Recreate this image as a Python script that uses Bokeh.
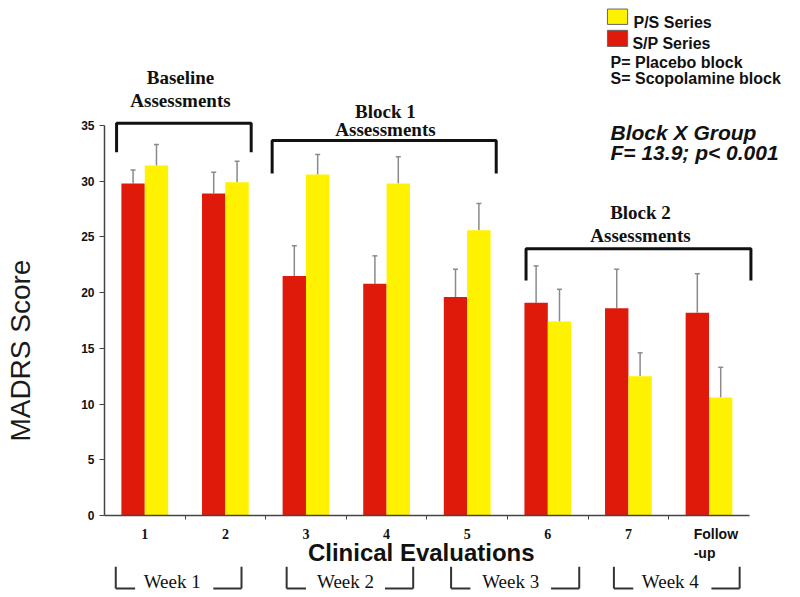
from math import pi
from bokeh.plotting import figure
from bokeh.models import (Range1d, FixedTicker, ColumnDataSource, Whisker, TeeHead,
                          Label, LabelSet, Arrow)
from bokeh.core.properties import value
from bokeh.embed import file_html
from bokeh.resources import INLINE

# ---------------- data ----------------
categories = ["1", "2", "3", "4", "5", "6", "7", "Follow\n-up"]
sp_means = [29.8, 28.9, 21.5, 20.8, 19.6, 19.1, 18.6, 18.2]   # S/P series (red)
sp_sem = [1.2, 1.9, 2.7, 2.5, 2.5, 3.3, 3.5, 3.5]
ps_means = [31.4, 29.9, 30.6, 29.8, 25.6, 17.4, 12.5, 10.6]   # P/S series (yellow)
ps_sem = [1.9, 1.9, 1.8, 2.4, 2.4, 2.9, 2.1, 2.7]
y_ticks = [0, 5, 10, 15, 20, 25, 30, 35]
series_names = ["P/S Series", "S/P Series"]
legend_notes = ["P= Placebo block", "S= Scopolamine block"]
block_line1 = ["Baseline", "Block 1", "Block 2"]
block_line2 = ["Assessments", "Assessments", "Assessments"]
weeks = ["Week 1", "Week 2", "Week 3", "Week 4"]
stat_lines = ["Block X Group", "F= 13.9; p< 0.001"]
y_title = "MADRS Score"
x_title = "Clinical Evaluations"

# ---------------- layout constants ----------------
RED = "#DF1A0B"
YEL = "#FFF200"
BAR_W = 0.29
SANS = "Liberation Sans"
SERIF = "Liberation Serif"

# bracket geometry (data units)
br_x0 = [0.15, 2.08, 5.23]
br_x1 = [1.82, 4.86, 8.02]
br_top = [35.2, 33.66, 23.94]
br_bot = [32.6, 30.7, 21.1]
br_tx = [0.943, 3.486, 6.65]
br_ty1 = [39.3, 36.3, 27.2]
br_ty2 = [37.2, 34.6, 25.1]

wk_x0 = [0.14, 2.26, 4.30, 6.32]
wk_x1 = [1.70, 3.83, 5.89, 7.88]
wk_tx = [0.84, 2.99, 5.04, 7.02]

n = len(categories)
centers = [i + 0.5 for i in range(n)]
red_x = [c - BAR_W / 2 for c in centers]
yel_x = [c + BAR_W / 2 for c in centers]

p = figure(width=800, height=597,
           x_range=Range1d(-1.290, 8.635), y_range=Range1d(-7.359, 46.217),
           output_backend="svg", toolbar_location=None,
           min_border_left=0, min_border_right=0,
           min_border_top=0, min_border_bottom=0)
p.outline_line_color = None
p.grid.visible = False
p.background_fill_color = "white"

# axes (fixed in data space so that the frame covers the whole canvas)
xa = p.xaxis[0]
xa.fixed_location = 0
xa.ticker = FixedTicker(ticks=[], minor_ticks=list(range(1, n)))
xa.bounds = (0, n)
xa.major_tick_line_color = None
xa.major_label_text_font_size = "0px"
xa.minor_tick_in = 0
xa.minor_tick_out = 4
xa.minor_tick_line_color = "#444444"
xa.axis_line_color = "#444444"
xa.axis_line_width = 1.5

ya = p.yaxis[0]
ya.fixed_location = 0
ya.ticker = FixedTicker(ticks=y_ticks)
ya.bounds = (0, 35)
ya.major_tick_in = 0
ya.major_tick_out = 5
ya.minor_tick_line_color = None
ya.major_tick_line_color = "#444444"
ya.axis_line_color = "#444444"
ya.axis_line_width = 1.5
ya.major_label_text_font = SANS
ya.major_label_text_font_style = "bold"
ya.major_label_text_font_size = "12px"
ya.major_label_text_color = "#111111"
ya.major_label_standoff = 5

# bars
p.vbar(x=red_x, top=sp_means, bottom=0, width=BAR_W, fill_color=RED, line_color=None)
p.vbar(x=yel_x, top=ps_means, bottom=0, width=BAR_W, fill_color=YEL, line_color=None)

# error bars (upper only)
for xs, m, e in ((red_x, sp_means, sp_sem), (yel_x, ps_means, ps_sem)):
    src = ColumnDataSource(dict(x=xs, lower=m, upper=[a + b for a, b in zip(m, e)]))
    w = Whisker(base="x", lower="lower", upper="upper", source=src, dimension="height",
                line_color="#8A8A8A", line_width=1.5,
                upper_head=TeeHead(size=5, line_color="#8A8A8A", line_width=1.5),
                lower_head=None)
    p.add_layout(w)

# block brackets
p.multi_line(xs=[[a, a, b, b] for a, b in zip(br_x0, br_x1)],
             ys=[[lo, hi, hi, lo] for lo, hi in zip(br_bot, br_top)],
             line_color="#111111", line_width=3)
p.text(x=br_tx, y=br_ty1, text=block_line1, text_font=value(SERIF), text_font_style="bold",
       text_font_size="19px", text_align="center", text_baseline="middle", text_color="#111111")
p.text(x=br_tx, y=br_ty2, text=block_line2, text_font=value(SERIF), text_font_style="bold",
       text_font_size="19px", text_align="center", text_baseline="middle", text_color="#111111")

# statistics
p.text(x=[6.278, 6.278], y=[34.4, 32.56], text=stat_lines, text_font=value(SANS),
       text_font_style="bold italic", text_font_size="21px", text_align="left",
       text_baseline="middle", text_color="#111111")

# legend
p.quad(left=[6.24, 6.24], right=[6.49, 6.49], bottom=[44.07, 42.1], top=[45.45, 43.54],
       fill_color=[YEL, RED], line_color="#666666", line_width=1)
p.text(x=[6.563, 6.55], y=[44.25, 42.37], text=series_names, text_font=value(SANS),
       text_font_style="bold", text_font_size="16px", text_align="left",
       text_baseline="middle", text_color="#111111")
p.text(x=[6.278, 6.278], y=[40.66, 39.23], text=legend_notes, text_font=value(SANS),
       text_font_style="bold", text_font_size="16px", text_align="left",
       text_baseline="middle", text_color="#111111")

# y title
p.add_layout(Label(x=-1.036, y=14.8, text=y_title, angle=pi / 2, text_align="center",
                   text_baseline="middle", text_font=SANS, text_font_size="28px",
                   text_color="#1a1a1a"))

# category labels under the axis
num_src = ColumnDataSource(dict(x=centers[:-1], y=[-1.62] * (n - 1), t=categories[:-1]))
p.add_layout(LabelSet(x="x", y="y", text="t", source=num_src, text_align="center",
                      text_baseline="middle", text_font=SANS, text_font_style="bold",
                      text_font_size="14px", text_color="#111111"))
p.add_layout(Label(x=centers[-1] - 0.19, y=-0.95, text=categories[-1], text_align="left",
                   text_baseline="top", text_font=SANS, text_font_style="bold",
                   text_font_size="14px", text_color="#111111"))

# x title
p.add_layout(Label(x=3.93, y=-3.32, text=x_title, text_align="center", text_baseline="middle",
                   text_font=SANS, text_font_style="bold", text_font_size="24px",
                   text_color="#111111"))

# week brackets
wy_top, wy_bot = -4.6, -6.55
xs0, ys0, xs1, ys1 = [], [], [], []
for a, b in zip(wk_x0, wk_x1):
    segs = [(a, wy_top, a, wy_bot), (a, wy_bot, a + 0.24, wy_bot),
            (b - 0.35, wy_bot, b, wy_bot), (b, wy_bot, b, wy_top)]
    for s in segs:
        xs0.append(s[0]); ys0.append(s[1]); xs1.append(s[2]); ys1.append(s[3])
wk_src = ColumnDataSource(dict(x0=xs0, y0=ys0, x1=xs1, y1=ys1))
p.add_layout(Arrow(x_start="x0", y_start="y0", x_end="x1", y_end="y1", source=wk_src,
                   start=None, end=None, line_color="#333333", line_width=2))
wt_src = ColumnDataSource(dict(x=wk_tx, y=[-5.9] * len(weeks), t=weeks))
p.add_layout(LabelSet(x="x", y="y", text="t", source=wt_src, text_align="center",
                      text_baseline="middle", text_font=SERIF, text_font_size="19px",
                      text_color="#111111"))

open("out.html", "w").write(file_html(p, INLINE))
